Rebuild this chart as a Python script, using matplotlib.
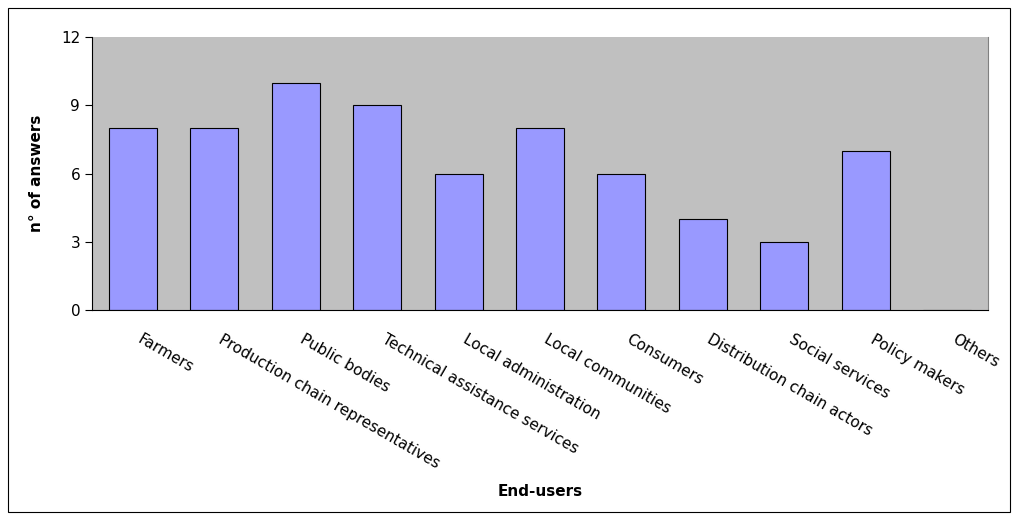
import matplotlib.pyplot as plt
import numpy as np
from matplotlib.patches import Rectangle

# End-user categories and number of answers
categories = ['Farmers', 'Production chain representatives', 'Public bodies',
              'Technical assistance services', 'Local administration',
              'Local communities', 'Consumers', 'Distribution chain actors',
              'Social services', 'Policy makers', 'Others']
answers = [8, 8, 10, 9, 6, 8, 6, 4, 3, 7, 0]

fig = plt.figure(figsize=(10.17, 5.18), dpi=100)
ax = fig.add_axes([92 / 1017, 1 - 310 / 518, 896 / 1017, 273 / 518])

x = np.arange(len(categories))
ax.bar(x, answers, width=0.59, color='#9999FF', edgecolor='black', linewidth=0.8)

ax.set_facecolor('#C0C0C0')
ax.set_xlim(-0.5, len(categories) - 0.5)
ax.set_ylim(0, 12)
ax.set_yticks([0, 3, 6, 9, 12])
ax.tick_params(axis='y', labelsize=11, length=5, width=0.8)

# no x ticks, labels rotated below each bar
ax.set_xticks([])
for xi, name in zip(x, categories):
    ax.text(xi + 0.07, -1.25, name, rotation=-30, rotation_mode='anchor',
            ha='left', va='center', fontsize=11)

ax.spines['top'].set_visible(False)
ax.spines['right'].set_color('#808080')
ax.spines['right'].set_linewidth(0.8)
for side in ['left', 'bottom']:
    ax.spines[side].set_linewidth(0.8)

ax.set_ylabel('n° of answers', fontsize=11, fontweight='bold', labelpad=12)
fig.text(540 / 1017, 1 - 492 / 518, 'End-users', ha='center', va='center',
         fontsize=11, fontweight='bold')

# outer frame around the whole chart
fig.patches.append(Rectangle((8 / 1017, 6 / 518), 1002 / 1017, 504 / 518,
                             transform=fig.transFigure, fill=False,
                             edgecolor='black', linewidth=0.8))

fig.savefig('out.png', dpi=100)
